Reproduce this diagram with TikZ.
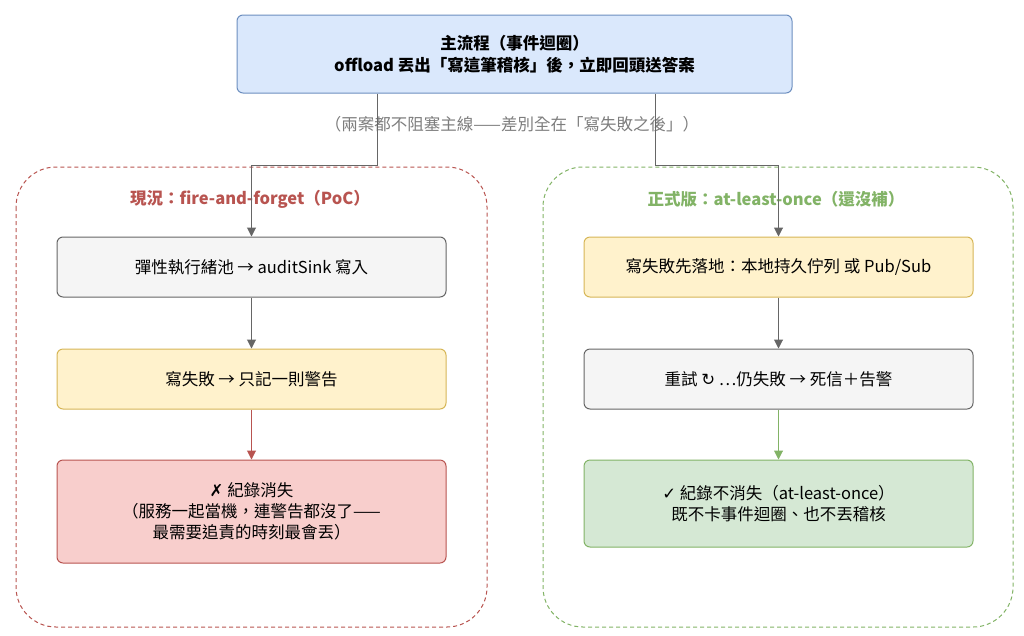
\documentclass[tikz,border=0pt]{standalone}
\usepackage{fontspec}
\setmainfont{Noto Sans CJK TC}
\newfontfamily\symfont{DejaVu Sans}
\usetikzlibrary{arrows.meta, positioning}
\definecolor{blueFill}{HTML}{DAE8FC}
\definecolor{blueLine}{HTML}{6C8EBF}
\definecolor{redFill}{HTML}{F8CECC}
\definecolor{redLine}{HTML}{B85450}
\definecolor{greenFill}{HTML}{D5E8D4}
\definecolor{greenLine}{HTML}{82B366}
\definecolor{yellowFill}{HTML}{FFF2CC}
\definecolor{yellowLine}{HTML}{D6B656}
\definecolor{grayFill}{HTML}{F5F5F5}
\definecolor{grayLine}{HTML}{666666}

\begin{document}
\begin{tikzpicture}[
    x=1pt, y=-1pt,
    font=\fontsize{16.5}{21}\selectfont,
    box/.style={rectangle, rounded corners=6pt, line width=1pt, minimum width=389pt, minimum height=60pt, align=center},
    group/.style={rounded corners=40pt, dash pattern=on 4pt off 3pt, line width=1pt},
    grey box/.style={box, draw=grayLine, fill=grayFill},
    warn box/.style={box, draw=yellowLine, fill=yellowFill},
    bad box/.style={box, draw=redLine, fill=redFill, minimum height=103pt},
    good box/.style={box, draw=greenLine, fill=greenFill, minimum height=87pt},
    flow/.style={-{Triangle[length=9pt, width=9pt]}, line width=1pt, draw=grayLine}
]
\useasboundingbox (0,0) rectangle (1024,635);

% containers
\draw[group, draw=redLine] (16,167) rectangle (487,627);
\draw[group, draw=greenLine] (543,167) rectangle (1013,627);

\node[box, draw=blueLine, fill=blueFill, minimum width=555pt, minimum height=78pt, font=\fontsize{16.5}{22}\selectfont\bfseries] (main) at (514.5,54)
  {主流程（事件迴圈）\\offload 丟出「寫這筆稽核」後，立即回頭送答案};
\node[text=grayLine!85] (note) at (512,124) {（兩案都不阻塞主線——差別全在「寫失敗之後」）};

% left: current
\node[text=redLine, font=\fontsize{16.5}{21}\selectfont\bfseries] (curTitle) at (250,199) {現況：fire-and-forget（PoC）};
\node[grey box] (pool) at (251.5,267) {彈性執行緒池 → auditSink 寫入};
\node[warn box] (warnOnly) at (251.5,379) {寫失敗 → 只記一則警告};
\node[bad box] (lost) at (251.5,511.5) {{\symfont ✗} 紀錄消失\\（服務一起當機，連警告都沒了——\\最需要追責的時刻最會丟）};

% right: production
\node[text=greenLine, font=\fontsize{16.5}{21}\selectfont\bfseries] (prodTitle) at (776,199) {正式版：at-least-once（還沒補）};
\node[warn box] (persist) at (778.5,267) {寫失敗先落地：本地持久佇列 或 Pub/Sub};
\node[grey box] (retry) at (778.5,379) {重試 {\symfont ↻} …仍失敗 → 死信＋告警};
\node[good box] (kept) at (778.5,503.5) {{\symfont ✓} 紀錄不消失（at-least-once）\\既不卡事件迴圈、也不丟稽核};

\coordinate (forkL) at (377,165);
\coordinate (forkR) at (655,165);
\draw[flow] (main.south -| forkL) -- (forkL) -| (pool.north);
\draw[flow] (main.south -| forkR) -- (forkR) -| (persist.north);

\draw[flow] (pool) -- (warnOnly);
\draw[flow, draw=redLine] (warnOnly) -- (lost);
\draw[flow] (persist) -- (retry);
\draw[flow, draw=greenLine] (retry) -- (kept);
\end{tikzpicture}
\end{document}
